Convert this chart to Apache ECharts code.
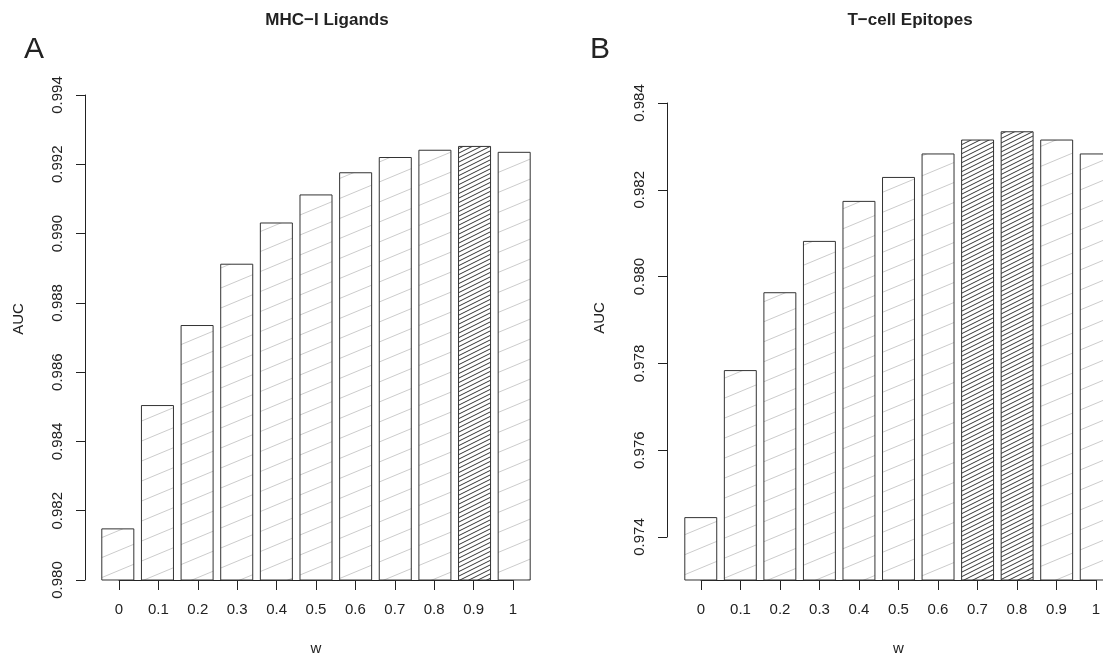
<!DOCTYPE html>
<html>
<head>
<meta charset="utf-8">
<script src="https://cdn.jsdelivr.net/npm/echarts@6/dist/echarts.min.js"></script>
<style>
  html, body { margin: 0; padding: 0; background: #fff; }
  #chart { width: 1103px; height: 655px; }
</style>
</head>
<body>
<div id="chart"></div>
<script>
// weights on the x axis
const wLabels = ['0', '0.1', '0.2', '0.3', '0.4', '0.5', '0.6', '0.7', '0.8', '0.9', '1']

// AUC per weight, panel A (MHC-I ligands) and panel B (T-cell epitopes)
const aucLigands = [0.98149, 0.98505, 0.98736, 0.98913, 0.99032, 0.99113, 0.99177, 0.99221, 0.99242, 0.99253, 0.99236]
const aucEpitopes = [0.97448, 0.97786, 0.97965, 0.98083, 0.98175, 0.98230, 0.98284, 0.98316, 0.98335, 0.98316, 0.98284]

// bars drawn with the dense hatch (best weights)
const bestLigands = [9]
const bestEpitopes = [7, 8]

// y tick ranges
const ligandTicks = [0.980, 0.982, 0.984, 0.986, 0.988, 0.990, 0.992, 0.994]
const epitopeTicks = [0.974, 0.976, 0.978, 0.980, 0.982, 0.984]

const FONT = '"Liberation Sans", Arial, Helvetica, sans-serif'
const INK = '#222'

// diagonal hatch tile, lines rising to the right
function hatch(w, h, gap, color, lw) {
  const c = document.createElement('canvas')
  c.width = w
  c.height = h
  const ctx = c.getContext('2d')
  ctx.fillStyle = '#fff'
  ctx.fillRect(0, 0, w, h)
  ctx.strokeStyle = color
  ctx.lineWidth = lw
  for (let y0 = -h; y0 <= 2 * h + 0.01; y0 += gap) {
    ctx.beginPath()
    ctx.moveTo(-w, y0 + h)
    ctx.lineTo(2 * w, y0 - 2 * h)
    ctx.stroke()
  }
  return { image: c, repeat: 'repeat' }
}

const lightPat = hatch(48, 20, 20, '#cccccc', 1)
const densePat = hatch(18, 9, 4.5, '#333', 1)

function barData(values, best) {
  return values.map((v, i) => ({
    value: v,
    itemStyle: { color: best.includes(i) ? densePat : lightPat }
  }))
}

const chart = echarts.init(document.getElementById('chart'))

function yTickAxis(gridIndex, ticks) {
  return {
    type: 'value',
    gridIndex: gridIndex,
    min: ticks[0],
    max: ticks[ticks.length - 1],
    interval: 0.002,
    axisLine: { show: true, onZero: false, lineStyle: { color: INK, width: 1 } },
    axisTick: { show: true, length: 9, lineStyle: { color: INK } },
    splitLine: { show: false },
    axisLabel: {
      rotate: 90,
      margin: 20,
      color: INK,
      fontSize: 15,
      fontFamily: FONT,
      formatter: v => v.toFixed(3)
    }
  }
}

function xTickAxis(gridIndex) {
  return {
    type: 'category',
    gridIndex: gridIndex,
    data: wLabels,
    boundaryGap: false,
    axisLine: { show: true, onZero: false, lineStyle: { color: INK, width: 1 } },
    axisTick: { show: true, length: 10, lineStyle: { color: INK } },
    axisLabel: { margin: 22, color: INK, fontSize: 15, fontFamily: FONT, interval: 0 },
    name: 'w',
    nameLocation: 'middle',
    nameGap: 61,
    nameTextStyle: { color: INK, fontSize: 15, fontFamily: FONT }
  }
}

// fixed plot rectangles, no shrinking to fit labels
function box(left, top, width, height) {
  return { left, top, width, height, containLabel: false, outerBoundsMode: 'none' }
}

const option = {
  backgroundColor: '#fff',
  animation: false,
  grid: [
    // A: bars, x ticks, y ticks
    box(98, 95, 436, 485),
    box(119, 95, 394, 485),
    box(85, 95, 400, 485),
    // B: bars, x ticks, y ticks
    box(681, 103, 435, 477),
    box(701, 103, 395, 477),
    box(667, 103, 400, 434)
  ],
  xAxis: [
    { type: 'category', gridIndex: 0, data: wLabels, show: false },
    xTickAxis(1),
    { type: 'value', gridIndex: 2, show: false },
    { type: 'category', gridIndex: 3, data: wLabels, show: false },
    xTickAxis(4),
    { type: 'value', gridIndex: 5, show: false }
  ],
  yAxis: [
    { type: 'value', gridIndex: 0, min: 0.980, max: 0.994, show: false },
    { type: 'value', gridIndex: 1, min: 0, max: 1, show: false },
    yTickAxis(2, ligandTicks),
    // plot region of B reaches a little below 0.974
    { type: 'value', gridIndex: 3, min: 0.984 - 477 * 0.002 / 87, max: 0.984, show: false },
    { type: 'value', gridIndex: 4, min: 0, max: 1, show: false },
    yTickAxis(5, epitopeTicks)
  ],
  series: [
    {
      type: 'bar',
      xAxisIndex: 0,
      yAxisIndex: 0,
      data: barData(aucLigands, bestLigands),
      barCategoryGap: '16.7%',
      itemStyle: { borderColor: '#333', borderWidth: 1 },
      clip: true
    },
    {
      type: 'bar',
      xAxisIndex: 3,
      yAxisIndex: 3,
      data: barData(aucEpitopes, bestEpitopes),
      barCategoryGap: '16.7%',
      itemStyle: { borderColor: '#333', borderWidth: 1 },
      clip: true
    }
  ],
  graphic: [
    { type: 'text', x: 327, y: 20, style: { text: 'MHC\u2212I Ligands', font: 'bold 17px ' + FONT, fill: INK, align: 'center', verticalAlign: 'middle' } },
    { type: 'text', x: 910, y: 20, style: { text: 'T\u2212cell Epitopes', font: 'bold 17px ' + FONT, fill: INK, align: 'center', verticalAlign: 'middle' } },
    { type: 'text', x: 34, y: 50, style: { text: 'A', font: '30px ' + FONT, fill: INK, align: 'center', verticalAlign: 'middle' } },
    { type: 'text', x: 600, y: 50, style: { text: 'B', font: '30px ' + FONT, fill: INK, align: 'center', verticalAlign: 'middle' } },
    { type: 'text', x: 19, y: 319, rotation: Math.PI / 2, style: { text: 'AUC', font: '15px ' + FONT, fill: INK, align: 'center', verticalAlign: 'middle' } },
    { type: 'text', x: 600, y: 318, rotation: Math.PI / 2, style: { text: 'AUC', font: '15px ' + FONT, fill: INK, align: 'center', verticalAlign: 'middle' } }
  ]
}

chart.setOption(option)
</script>
</body>
</html>
